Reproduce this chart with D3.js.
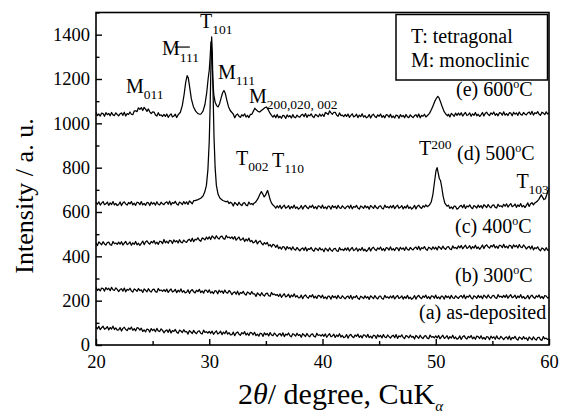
<!DOCTYPE html>
<html>
<head>
<meta charset="utf-8">
<script src="https://cdn.jsdelivr.net/npm/d3@7"></script>
<style>
  body { margin: 0; background: #fff; }
  svg, svg text { font-family: "Liberation Serif", "DejaVu Serif", "Times New Roman", serif; }
  svg text { fill: #000; }
</style>
</head>
<body>
<svg id="chart" width="561" height="415"></svg>
<script>
/**
 * XRD patterns, 2theta 20-60 deg, five annealing temperatures
 */

var SERIF = '"Liberation Serif", "DejaVu Serif", "Times New Roman", serif';

// scan grid: 20..60 deg every 0.125 deg (321 points)
var angles = d3.range(321).map(function(i) { return 20 + i * 0.125; });

var angleTicks = [20, 30, 40, 50, 60];
var angleMinorTicks = [25, 35, 45, 55];
var intensityTicks = [0, 200, 400, 600, 800, 1000, 1200, 1400];
var intensityMinorTicks = [100, 300, 500, 700, 900, 1100, 1300, 1500];

// (a) as-deposited, one row per 2 deg
var asDeposited = [
  82,73,84,69,78,85,71,75,83,68,79,72,85,70,77,67,
  68,79,63,75,80,70,65,77,71,81,66,74,64,78,76,67,
  76,61,68,59,72,70,58,74,65,71,60,75,64,61,73,66,
  55,64,68,57,71,54,65,61,70,58,53,67,63,56,69,59,
  61,49,65,59,52,66,56,51,62,64,53,50,67,57,60,54,
  61,52,63,48,57,64,50,54,62,47,58,51,64,49,56,46,
  47,58,42,54,59,49,44,56,50,60,45,53,43,57,55,46,
  57,42,49,40,53,51,39,55,46,52,41,56,45,42,54,47,
  39,48,52,41,55,38,49,45,54,42,37,51,47,40,53,43,
  47,35,51,45,38,52,42,37,48,50,39,36,53,43,46,40,
  48,39,50,35,44,51,37,41,49,34,45,38,51,36,43,33,
  36,47,31,43,48,38,33,45,39,49,34,42,32,46,44,35,
  48,33,40,31,44,42,30,46,37,43,32,47,36,33,45,38,
  31,40,44,33,47,30,41,37,46,34,29,43,39,32,45,35,
  39,27,43,37,30,44,34,29,40,42,31,28,45,35,38,32,
  41,32,43,28,37,44,30,34,42,27,38,31,44,29,36,26,
  30,41,25,37,42,32,27,39,33,43,28,36,26,40,38,29,
  42,27,34,25,38,36,24,40,31,37,26,41,30,27,39,32,
  24,33,37,26,40,23,34,30,39,27,22,36,32,25,38,28,
  32,20,36,30,23,37,27,22,33,35,24,21,38,28,31,25,
  26
];

// (b) 300 C
var t300 = [
  261,246,253,244,257,255,243,259,250,256,245,260,249,246,258,251,
  241,250,254,243,257,240,251,247,256,244,239,253,249,242,255,245,
  249,237,253,247,240,254,244,239,250,252,241,238,255,245,248,242,
  250,241,252,237,246,253,239,243,251,236,247,240,253,238,245,235,
  238,249,233,245,250,240,235,247,241,251,236,244,234,248,246,237,
  249,234,241,232,245,243,231,247,238,244,233,248,237,234,246,239,
  227,236,240,229,243,226,237,233,242,230,225,239,235,228,241,231,
  231,219,235,229,222,236,226,221,232,234,223,220,237,227,230,224,
  228,219,230,215,224,231,217,221,229,214,225,218,231,216,223,213,
  214,225,209,221,226,216,211,223,217,227,212,220,210,224,222,213,
  225,210,217,208,221,219,207,223,214,220,209,224,213,210,222,215,
  208,217,221,210,224,207,218,214,223,211,206,220,216,209,222,212,
  218,206,222,216,209,223,213,208,219,221,210,207,224,214,217,211,
  221,212,223,208,217,224,210,214,222,207,218,211,224,209,216,206,
  212,223,207,219,224,214,209,221,215,225,210,218,208,222,220,211,
  225,210,217,208,221,219,207,223,214,220,209,224,213,210,222,215,
  210,219,223,212,226,209,220,216,225,213,208,222,218,211,224,214,
  221,209,225,219,212,226,216,211,222,224,213,210,227,217,220,214,
  224,215,226,211,220,227,213,217,225,210,221,214,227,212,219,209,
  213,224,208,220,225,215,210,222,216,226,211,219,209,223,221,212,
  215
];

// (c) 400 C
var t400 = [
  461,449,465,459,452,466,456,451,462,464,453,450,467,457,460,454,
  464,455,466,451,460,467,453,457,465,450,461,454,467,452,459,449,
  458,469,453,465,470,460,455,467,461,471,456,464,454,468,466,457,
  476,461,468,459,472,470,458,474,465,471,460,475,464,461,473,466,
  463,473,477,467,482,466,477,474,484,473,468,483,480,474,487,478,
  488,476,492,486,479,493,483,478,489,491,480,477,494,484,487,481,
  488,478,489,473,481,487,473,476,483,467,478,470,482,466,472,461,
  464,473,456,466,470,458,452,462,455,463,447,453,442,454,451,440,
  451,435,442,432,444,442,429,444,435,440,429,443,432,428,440,432,
  425,434,438,427,441,424,435,431,440,428,423,437,433,426,439,429,
  433,421,437,431,424,438,428,423,434,436,425,422,439,429,432,426,
  437,428,439,424,433,440,426,430,438,423,434,427,440,425,432,422,
  429,440,424,436,441,431,426,438,432,442,427,435,425,439,437,428,
  443,428,435,426,439,437,425,441,432,438,427,442,431,428,440,433,
  429,438,442,431,445,428,439,435,444,432,427,441,437,430,443,433,
  441,429,445,439,432,446,436,431,442,444,433,430,447,437,440,434,
  447,438,449,434,443,450,436,440,448,433,444,437,450,435,442,432,
  440,451,435,447,452,442,437,449,443,453,438,446,436,450,448,439,
  454,439,446,437,450,448,436,452,443,449,438,453,442,439,451,444,
  433,441,445,433,447,429,439,435,443,431,425,438,434,426,439,428,
  428
];

// (d) 500 C, coarse scan plus finely read reflections
var t500 = [
  644,635,646,631,640,647,633,637,645,630,641,634,647,632,639,629,
  634,645,629,641,646,636,631,643,637,647,632,640,630,644,642,633,
  647,632,639,630,643,641,629,645,636,642,631,646,635,632,644,637,
  633,642,646,635,649,632,643,639,648,636,631,645,641,634,647,637,
  646,634,650,644,637,651,655,660,665,672,680,700,750,850,1000,1200,
  1350,1300,1000,800,720,690,670,660,655,652,650,648,646,649,638,644,
  639,627,643,637,630,644,634,629,640,642,631,628,645,635,638,632,
  645,655,665,680,690,680,670,675,690,695,680,660,645,635,626,617,
  628,619,630,615,624,631,617,621,629,614,625,618,631,616,623,613,
  618,629,613,625,630,620,615,627,621,631,616,624,614,628,626,617,
  631,616,623,614,627,625,613,629,620,626,615,630,619,616,628,621,
  615,624,628,617,631,614,625,621,630,618,613,627,623,616,629,619,
  625,613,629,623,616,630,620,615,626,628,617,614,631,621,624,618,
  628,619,630,615,624,631,617,621,629,614,625,618,631,616,623,613,
  619,630,614,626,631,621,616,628,622,632,640,660,700,750,790,800,
  790,780,750,745,720,690,660,640,626,631,616,623,614,627,625,613,
  617,626,630,619,633,616,627,623,632,620,615,629,625,618,631,621,
  629,617,633,627,620,634,624,619,630,632,621,618,635,625,628,622,
  635,626,637,622,631,638,624,628,636,621,632,625,638,623,630,620,
  630,641,625,637,642,632,645,650,660,675,665,655,665,690,700,705,
  706
];
var t500Peaks = [
  [[28.75,651],[29.0,656],[29.25,662],[29.45,672],[29.6,690],[29.75,720],[29.88,790],
   [30.0,920],[30.08,1080],[30.15,1260],[30.21,1390],[30.27,1320],[30.34,1130],
   [30.42,940],[30.52,800],[30.63,720],[30.78,680],[30.95,662],[31.2,652],[31.5,646]],
  [[33.9,637],[34.1,645],[34.3,660],[34.45,678],[34.6,692],[34.72,682],[34.85,668],
   [34.97,676],[35.08,690],[35.15,697],[35.25,680],[35.38,655],[35.5,640],[35.65,630]],
  [[49.25,624],[49.45,632],[49.6,645],[49.75,680],[49.9,740],[50.02,785],[50.12,800],
   [50.22,775],[50.32,750],[50.42,742],[50.52,715],[50.65,672],[50.8,640],[51.0,626]],
  [[58.75,641],[58.95,648],[59.1,657],[59.22,668],[59.32,678],[59.42,668],[59.55,656],
   [59.68,660],[59.8,678],[59.92,698],[60.0,706]]
];

// (e) 600 C
var t600 = [
  1050,1035,1042,1033,1046,1044,1032,1048,1039,1045,1034,1049,1038,1035,1047,1040,
  1034,1043,1047,1036,1050,1033,1044,1040,1051,1041,1039,1056,1056,1053,1070,1063,
  1071,1058,1072,1064,1054,1065,1052,1044,1052,1051,1038,1033,1048,1036,1038,1031,
  1040,1031,1042,1027,1036,1043,1029,1033,1041,1026,1050,1080,1130,1185,1215,1205,
  1210,1180,1130,1090,1070,1060,1055,1050,1044,1042,1041,1055,1085,1140,1200,1230,
  1240,1320,1300,1180,1110,1085,1076,1090,1112,1135,1148,1140,1115,1085,1065,1055,
  1049,1041,1025,1037,1042,1032,1027,1039,1033,1043,1028,1036,1026,1040,1040,1055,
  1068,1062,1055,1052,1056,1062,1068,1072,1072,1060,1050,1040,1036,1028,1037,1025,
  1040,1025,1032,1023,1036,1034,1022,1038,1029,1035,1024,1039,1028,1025,1037,1030,
  1028,1037,1041,1030,1044,1027,1038,1034,1043,1031,1026,1040,1036,1029,1042,1032,
  1041,1031,1049,1045,1040,1056,1047,1041,1050,1050,1037,1032,1047,1035,1037,1030,
  1040,1031,1042,1027,1036,1043,1029,1033,1041,1026,1037,1030,1043,1028,1035,1025,
  1029,1040,1024,1036,1041,1031,1026,1038,1032,1042,1027,1035,1025,1039,1037,1028,
  1041,1026,1033,1024,1037,1035,1023,1039,1030,1036,1025,1040,1029,1026,1038,1031,
  1026,1035,1039,1028,1042,1025,1036,1032,1041,1029,1034,1045,1062,1082,1100,1112,
  1112,1122,1116,1100,1085,1070,1055,1045,1036,1041,1029,1045,1039,1032,1046,1036,
  1046,1037,1048,1033,1042,1049,1035,1039,1047,1032,1043,1036,1049,1034,1041,1031,
  1038,1049,1033,1045,1050,1040,1035,1047,1041,1051,1036,1044,1034,1048,1046,1037,
  1052,1037,1044,1035,1048,1046,1034,1050,1041,1047,1036,1051,1040,1037,1049,1042,
  1038,1047,1051,1040,1054,1037,1048,1044,1053,1041,1036,1050,1046,1039,1052,1042,
  1048
];
var t600Peaks = [
  [[27.25,1038],[27.45,1050],[27.62,1080],[27.78,1130],[27.92,1185],[28.05,1215],
   [28.15,1205],[28.28,1160],[28.42,1110],[28.6,1075],[28.8,1055],[29.0,1044]],
  [[29.25,1041],[29.45,1055],[29.62,1085],[29.78,1140],[29.9,1200],[30.0,1240],
   [30.08,1300],[30.15,1368],[30.22,1320],[30.3,1210],[30.4,1130],[30.52,1095],
   [30.65,1080],[30.78,1074],[30.92,1090],[31.05,1115],[31.18,1138],[31.3,1148],
   [31.42,1135],[31.55,1105],[31.7,1075],[31.85,1058],[32.0,1049]],
  [[33.75,1040],[33.9,1055],[34.02,1068],[34.15,1061],[34.3,1054],[34.45,1051],
   [34.6,1058],[34.75,1064],[34.9,1070],[35.05,1074],[35.2,1062],[35.35,1047],[35.5,1036]],
  [[49.25,1034],[49.45,1045],[49.62,1062],[49.78,1082],[49.92,1100],[50.05,1112],
   [50.18,1122],[50.28,1116],[50.4,1100],[50.55,1078],[50.72,1055],[50.88,1042],[51.05,1034]]
];

// curve labels, anchored at (2theta, intensity) of their left baseline
var curveLabels = [
  {pre: '(e) 600', post: 'C', angle: 51.79, value: 1123},
  {pre: '(d) 500', post: 'C', angle: 51.88, value: 835},
  {pre: '(c) 400', post: 'C', angle: 51.70, value: 505},
  {pre: '(b) 300', post: 'C', angle: 51.70, value: 284},
  {pre: '(a) as-deposited', post: null, angle: 48.52, value: 117}
];

// reflection labels
var peakLabels = [
  {main: 'M', sub: '011', angle: 22.65, value: 1138, dy: 6},
  {main: 'M', sub: '111', angle: 25.83, value: 1308, dy: 6.5, bar: true},
  {main: 'T', sub: '101', angle: 29.18, value: 1428, dy: 6},
  {main: 'M', sub: '111', angle: 30.77, value: 1198, dy: 6},
  {main: 'M', sub: '200,020, 002', angle: 33.5, value: 1092, dy: 6},
  {main: 'T', sub: '002', angle: 32.36, value: 812, dy: 6},
  {main: 'T', sub: '110', angle: 35.54, value: 803, dy: 6},
  {main: 'T', sub: '200', angle: 48.52, value: 857, dy: -6},
  {main: 'T', sub: '103', angle: 57.12, value: 708, dy: 6}
];

var legendLines = ['T: tetragonal', 'M: monoclinic'];

var margin = {left: 96, top: 12.5, right: 549, bottom: 345};

var svg = d3.select('#chart').style('font-family', SERIF);

var x = d3.scaleLinear().domain([20, 60]).range([margin.left, margin.right]);
var y = d3.scaleLinear().domain([0, 1500]).range([margin.bottom, margin.top]);

// coarse scan points, with the finely read reflections put in their place
function buildSeries(grid, peaks) {
  var pts = [];
  grid.forEach(function(v, i) {
    var a = angles[i];
    var inside = peaks.some(function(p) {
      return a >= p[0][0] && a <= p[p.length - 1][0];
    });
    if (!inside) pts.push([a, v]);
  });
  peaks.forEach(function(p) { pts = pts.concat(p); });
  return pts.sort(function(p, q) { return p[0] - q[0]; });
}

var series = [
  buildSeries(asDeposited, []),
  buildSeries(t300, []),
  buildSeries(t400, []),
  buildSeries(t500, t500Peaks),
  buildSeries(t600, t600Peaks)
];

var line = d3.line()
    .x(function(d) { return x(d[0]); })
    .y(function(d) { return y(d[1]); });

svg.append('clipPath').attr('id', 'plot-clip')
  .append('rect')
    .attr('x', margin.left).attr('y', margin.top)
    .attr('width', margin.right - margin.left)
    .attr('height', margin.bottom - margin.top);

svg.append('g').attr('clip-path', 'url(#plot-clip)')
  .selectAll('path')
    .data(series)
  .enter().append('path')
    .attr('d', line)
    .attr('fill', 'none')
    .attr('stroke', '#000')
    .attr('stroke-width', 1.25)
    .attr('stroke-linejoin', 'round');

// axes, ticks pointing inward
function styleAxis(g) {
  g.attr('font-family', SERIF);
  g.select('.domain').remove();
  g.selectAll('line').attr('stroke', '#000').attr('stroke-width', 1.4);
  g.selectAll('text')
    .style('font-family', SERIF)
    .style('font-size', '18.5px')
    .attr('fill', '#000');
}

svg.append('g')
    .attr('transform', 'translate(0,' + margin.bottom + ')')
    .call(d3.axisBottom(x).tickValues(angleTicks).tickSize(-6).tickPadding(10)
      .tickFormat(d3.format('d')))
    .call(styleAxis);
svg.append('g')
    .attr('transform', 'translate(0,' + margin.bottom + ')')
    .call(d3.axisBottom(x).tickValues(angleMinorTicks).tickSize(-4).tickFormat(''))
    .call(styleAxis);
svg.append('g')
    .attr('transform', 'translate(' + margin.left + ',0)')
    .call(d3.axisLeft(y).tickValues(intensityTicks).tickSize(-6).tickPadding(6)
      .tickFormat(d3.format('d')))
    .call(styleAxis);
svg.append('g')
    .attr('transform', 'translate(' + margin.left + ',0)')
    .call(d3.axisLeft(y).tickValues(intensityMinorTicks).tickSize(-3.5).tickFormat(''))
    .call(styleAxis);

svg.append('rect')
    .attr('x', margin.left).attr('y', margin.top)
    .attr('width', margin.right - margin.left)
    .attr('height', margin.bottom - margin.top)
    .attr('fill', 'none')
    .attr('stroke', '#000')
    .attr('stroke-width', 1.6);

// legend box
svg.append('rect')
    .attr('x', 396).attr('y', 14.5)
    .attr('width', 151.5).attr('height', 65.5)
    .attr('fill', '#fff')
    .attr('stroke', '#000')
    .attr('stroke-width', 1.5);
svg.selectAll('.legend-text')
    .data(legendLines)
  .enter().append('text')
    .attr('class', 'legend-text')
    .attr('x', 411)
    .attr('y', function(d, i) { return 43 + i * 24; })
    .style('font-family', SERIF)
    .style('font-size', '20px')
    .text(function(d) { return d; });

// curve labels
curveLabels.forEach(function(c) {
  var t = svg.append('text')
      .attr('x', x(c.angle))
      .attr('y', y(c.value))
      .style('font-family', SERIF)
      .style('font-size', '20px');
  t.append('tspan').text(c.pre);
  if (c.post) {
    t.append('tspan').attr('dy', -8).style('font-size', '12px').text('o');
    t.append('tspan').attr('dy', 8).text(c.post);
  }
});

// peak labels
peakLabels.forEach(function(p) {
  var t = svg.append('text')
      .attr('x', x(p.angle))
      .attr('y', y(p.value))
      .style('font-family', SERIF)
      .style('font-size', '20px');
  t.append('tspan').text(p.main);
  t.append('tspan').attr('dy', p.dy).style('font-size', '13.5px').text(p.sub);
  if (p.bar) {
    var mw = t.node().getSubStringLength(0, 1);
    svg.append('line')
        .attr('x1', x(p.angle) + mw - 5)
        .attr('x2', x(p.angle) + mw + 10)
        .attr('y1', y(p.value) - 8)
        .attr('y2', y(p.value) - 8)
        .attr('stroke', '#000')
        .attr('stroke-width', 1.2);
  }
});

// axis titles
var xt = svg.append('text')
    .attr('x', 238)
    .attr('y', 404)
    .style('font-family', SERIF)
    .style('font-size', '30px');
xt.append('tspan').text('2');
xt.append('tspan').style('font-style', 'italic').text('\u03b8');
xt.append('tspan').text('/ degree, CuK');
xt.append('tspan').attr('dy', 7).style('font-size', '15px').style('font-style', 'italic').text('\u03b1');

svg.append('text')
    .attr('transform', 'translate(33,196) rotate(-90)')
    .attr('text-anchor', 'middle')
    .style('font-family', SERIF)
    .style('font-size', '26px')
    .text('Intensity / a. u.');
</script>
</body>
</html>
